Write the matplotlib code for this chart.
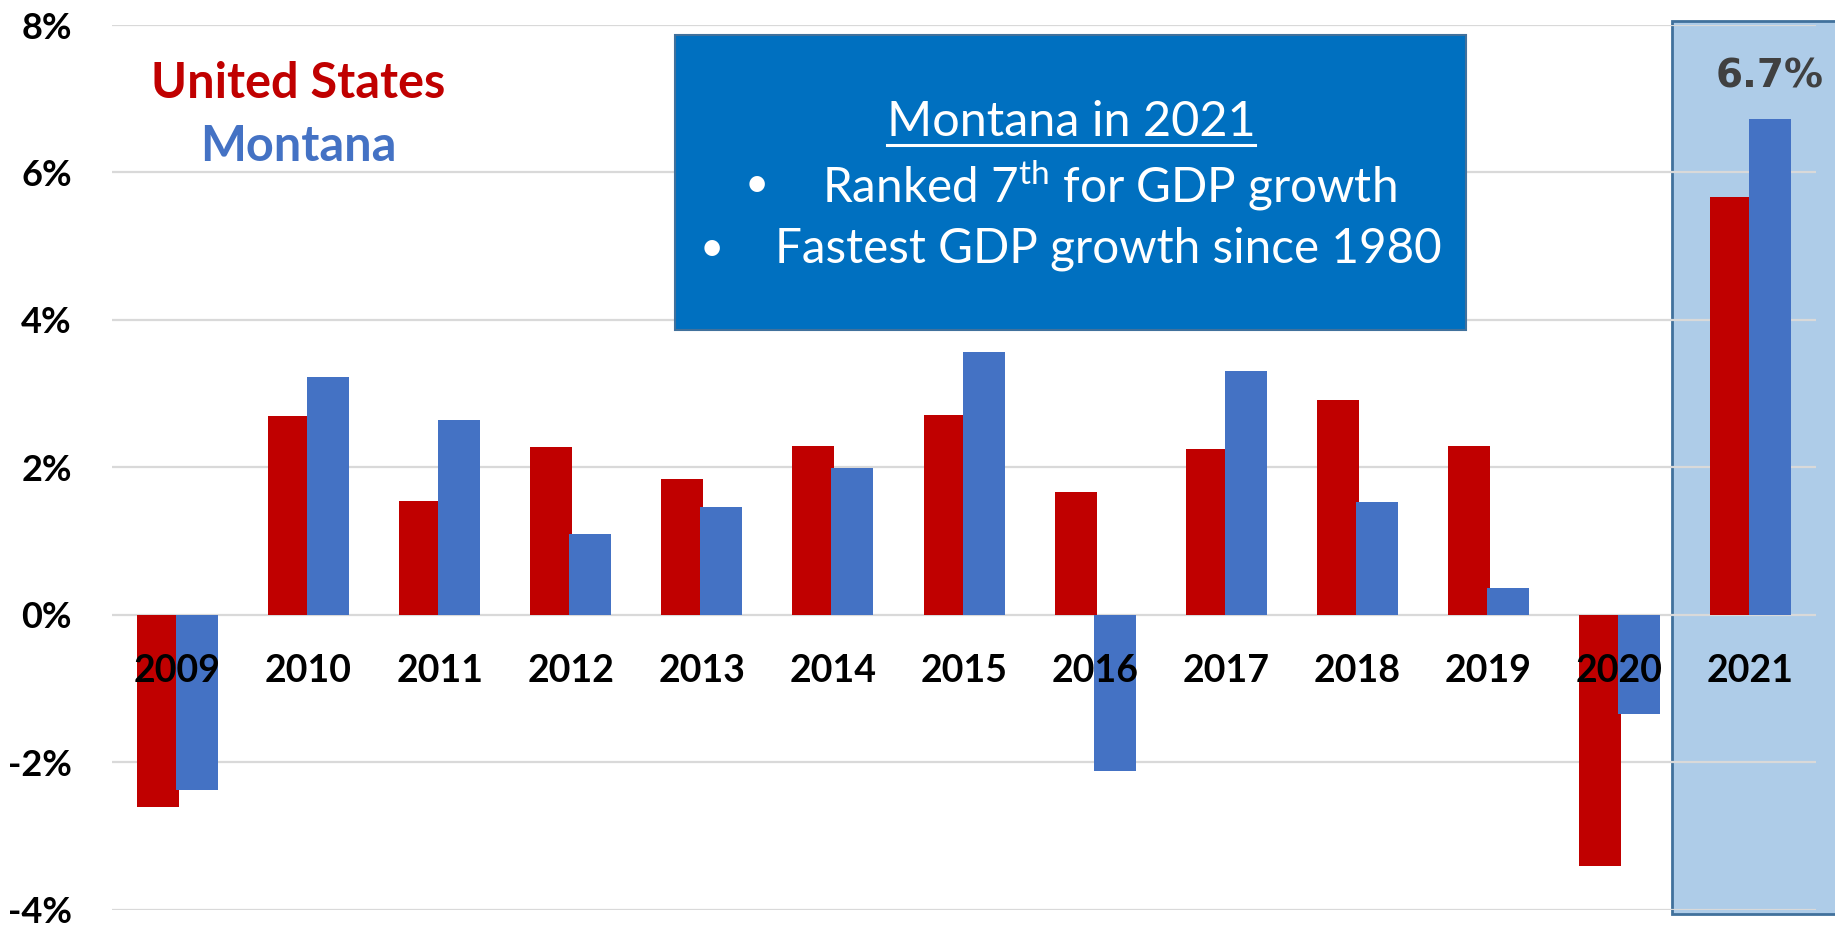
import matplotlib
matplotlib.use("Agg")
import matplotlib.pyplot as plt
from matplotlib.patches import Rectangle
from matplotlib.lines import Line2D
from matplotlib.ticker import PercentFormatter
import numpy as np

years = ['2009', '2010', '2011', '2012', '2013', '2014', '2015',
         '2016', '2017', '2018', '2019', '2020', '2021']
us_growth = [-2.6, 2.7, 1.55, 2.28, 1.84, 2.29, 2.71, 1.67, 2.25, 2.92, 2.29, -3.4, 5.67]
montana_growth = [-2.37, 3.23, 2.65, 1.1, 1.47, 1.99, 3.57, -2.11, 3.31, 1.53, 0.37, -1.34, 6.72]
highlight_label = '6.7%'
box_title = 'Montana in 2021'
box_lines = ['Ranked 7$^{\\mathrm{th}}$ for GDP growth', 'Fastest GDP growth since 1980']

red = '#C00000'
blue = '#4472C4'

plt.rcParams['axes.unicode_minus'] = False
plt.rcParams['mathtext.fontset'] = 'custom'
plt.rcParams['mathtext.rm'] = 'Lato'
plt.rcParams['font.family'] = ['Lato', 'DejaVu Sans']

fig = plt.figure(figsize=(18.35, 9.26), dpi=100)
ax = fig.add_axes([0.061, 0.0173, 0.9287, 0.9557])

x = np.arange(len(years))
w = 0.32
off = 0.149

# highlight band for 2021
ax.add_patch(Rectangle((11.40, -4.06), 1.5, 12.12, facecolor='#AECCE8',
                       edgecolor='#41719C', linewidth=2, zorder=0, clip_on=False))

ax.bar(x - off, us_growth, w, color=red, zorder=2)
ax.bar(x + off, montana_growth, w, color=blue, zorder=2)

ax.set_xlim(-0.5, len(years) - 0.5)
ax.set_ylim(-4, 8)
ax.set_yticks([-4, -2, 0, 2, 4, 6, 8])
ax.yaxis.set_major_formatter(PercentFormatter(xmax=100, decimals=0))
ax.set_axisbelow(True)
ax.grid(axis='y', color='#D9D9D9', linewidth=1.6)
ax.set_xticks([])
ax.tick_params(axis='y', length=0, pad=29, labelsize=26)
for lab in ax.get_yticklabels():
    lab.set_fontweight('bold')
for s in ax.spines.values():
    s.set_visible(False)
ax.patch.set_alpha(0)

for i, yr in enumerate(years):
    ax.text(i, -0.76, yr, ha='center', va='center', fontsize=27,
            fontweight='bold', color='black', zorder=5)

ax.annotate(highlight_label, (x[-1] + off, montana_growth[-1]), xytext=(0, 31),
            textcoords='offset points', ha='center', va='center',
            fontsize=28, fontweight='bold', color='#404040',
            family=['DejaVu Sans'])

# legend-like labels
fig.text(0.1624, 0.9093, 'United States', color=red, fontsize=35,
         fontweight='bold', ha='center', va='center')
fig.text(0.1624, 0.8423, 'Montana', color=blue, fontsize=35,
         fontweight='bold', ha='center', va='center')

# info box
fig.patches.append(Rectangle((0.368, 0.6436), 0.431, 0.3186,
                             transform=fig.transFigure, facecolor='#0070C0',
                             edgecolor='#41719C', linewidth=1.5, zorder=3))
title = fig.text(0.5837, 0.8683, box_title, color='white', fontsize=35,
                 ha='center', va='center', zorder=4)
fig.text(757 / 1835, 0.800, '\u2022', color='white', fontsize=30,
         ha='center', va='center', zorder=4)
fig.text(822 / 1835, 0.800, box_lines[0], color='white', fontsize=34.3,
         ha='left', va='center', zorder=4)
fig.text(712 / 1835, 0.731, '\u2022', color='white', fontsize=30,
         ha='center', va='center', zorder=4)
fig.text(775 / 1835, 0.731, box_lines[1], color='white', fontsize=34.3,
         ha='left', va='center', zorder=4)

# underline the box title
fig.canvas.draw()
bb = title.get_window_extent().transformed(fig.transFigure.inverted())
uy = 1 - 145 / 926
fig.lines.append(Line2D([bb.x0, bb.x1], [uy, uy], transform=fig.transFigure,
                        color='white', linewidth=2.2, zorder=4))

fig.savefig('out.png', dpi=100)
